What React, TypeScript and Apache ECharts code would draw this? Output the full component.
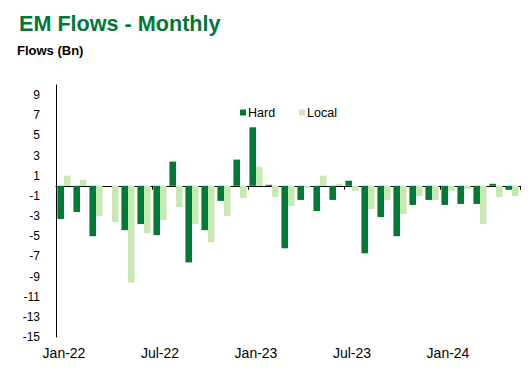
import React, { useEffect, useRef } from "react";
import * as echarts from "echarts";

const categories = [
  "Jan-22", "Feb-22", "Mar-22", "Apr-22", "May-22", "Jun-22",
  "Jul-22", "Aug-22", "Sep-22", "Oct-22", "Nov-22", "Dec-22",
  "Jan-23", "Feb-23", "Mar-23", "Apr-23", "May-23", "Jun-23",
  "Jul-23", "Aug-23", "Sep-23", "Oct-23", "Nov-23", "Dec-23",
  "Jan-24", "Feb-24", "Mar-24", "Apr-24", "May-24",
];

const hardFlows = [
  -3.3, -2.6, -5.0, 0, -4.4, -3.8,
  -4.9, 2.4, -7.6, -4.4, -1.5, 2.6,
  5.8, 0.1, -6.2, -1.4, -2.5, -1.4,
  0.5, -6.7, -3.1, -5.0, -1.9, -1.4,
  -1.9, -1.8, -1.8, 0.2, -0.4,
];

const localFlows = [
  1.0, 0.6, -3.0, -3.6, -9.6, -4.7,
  -3.4, -2.1, -3.8, -5.6, -3.0, -1.2,
  1.9, -1.1, -2.0, -0.2, 1.0, 0.2,
  -0.5, -2.3, -1.4, -2.8, -1.0, -1.4,
  -0.5, -0.3, -3.8, -1.1, -1.0,
];

const seriesNames = ["Hard", "Local"];
const titleText = "EM Flows - Monthly";
const subtitleText = "Flows (Bn)";

const FONT = "'Liberation Sans', Arial, sans-serif";

export default function App() {
  const ref = useRef<HTMLDivElement>(null);

  useEffect(() => {
    if (!ref.current) return;
    const chart = echarts.init(ref.current, undefined, { renderer: "svg" });
    chart.setOption({
      animation: false,
      backgroundColor: "#ffffff",
      title: [
        {
          text: titleText,
          left: 19,
          top: 12,
          padding: 0,
          textStyle: { fontFamily: FONT, fontSize: 21.6, fontWeight: "bold", color: "#00773A" },
        },
        {
          text: subtitleText,
          left: 17,
          top: 44,
          padding: 0,
          textStyle: { fontFamily: FONT, fontSize: 13, fontWeight: "bold", color: "#000000" },
        },
      ],
      legend: {
        data: seriesNames,
        left: 240,
        top: 106,
        padding: 0,
        icon: "rect",
        itemWidth: 6,
        itemHeight: 6,
        itemGap: 24,
        textStyle: { fontFamily: FONT, fontSize: 12.5, color: "#000000", padding: [0, 0, 0, -3] },
      },
      grid: { left: 56, right: 12, top: 85, bottom: 54, containLabel: false },
      xAxis: [
        {
          type: "category",
          data: categories,
          boundaryGap: true,
          axisLine: { show: true, onZero: true, lineStyle: { color: "#000000", width: 1 } },
          axisTick: { show: true, interval: 5, length: 4, lineStyle: { color: "#000000" } },
          axisLabel: { show: false },
          splitLine: { show: false },
        },
        {
          type: "category",
          data: categories,
          position: "bottom",
          boundaryGap: true,
          axisLine: { show: false, onZero: false },
          axisTick: { show: false },
          axisLabel: {
            show: true,
            interval: 5,
            margin: 9,
            fontFamily: FONT,
            fontSize: 14,
            color: "#000000",
          },
          splitLine: { show: false },
        },
      ],
      yAxis: {
        type: "value",
        min: -15,
        max: 10,
        interval: 1,
        axisLine: { show: true, lineStyle: { color: "#000000", width: 1 } },
        axisTick: { show: false },
        splitLine: { show: false },
        axisLabel: {
          margin: 16,
          fontFamily: FONT,
          fontSize: 12,
          color: "#000000",
          formatter: (v: number) => (Math.abs(v) % 2 === 1 && v < 10 ? String(v) : ""),
        },
      },
      series: [
        {
          name: seriesNames[0],
          type: "bar",
          xAxisIndex: 0,
          data: hardFlows,
          itemStyle: { color: "#007A37" },
          barGap: "0%",
          barCategoryGap: "18%",
        },
        {
          name: seriesNames[1],
          type: "bar",
          xAxisIndex: 0,
          data: localFlows,
          itemStyle: { color: "#C8E7B1" },
          barGap: "0%",
          barCategoryGap: "18%",
        },
      ],
    });
    return () => chart.dispose();
  }, []);

  return (
    <div
      ref={ref}
      style={{ position: "absolute", left: 0, top: 0, width: 532, height: 391 }}
    />
  );
}
